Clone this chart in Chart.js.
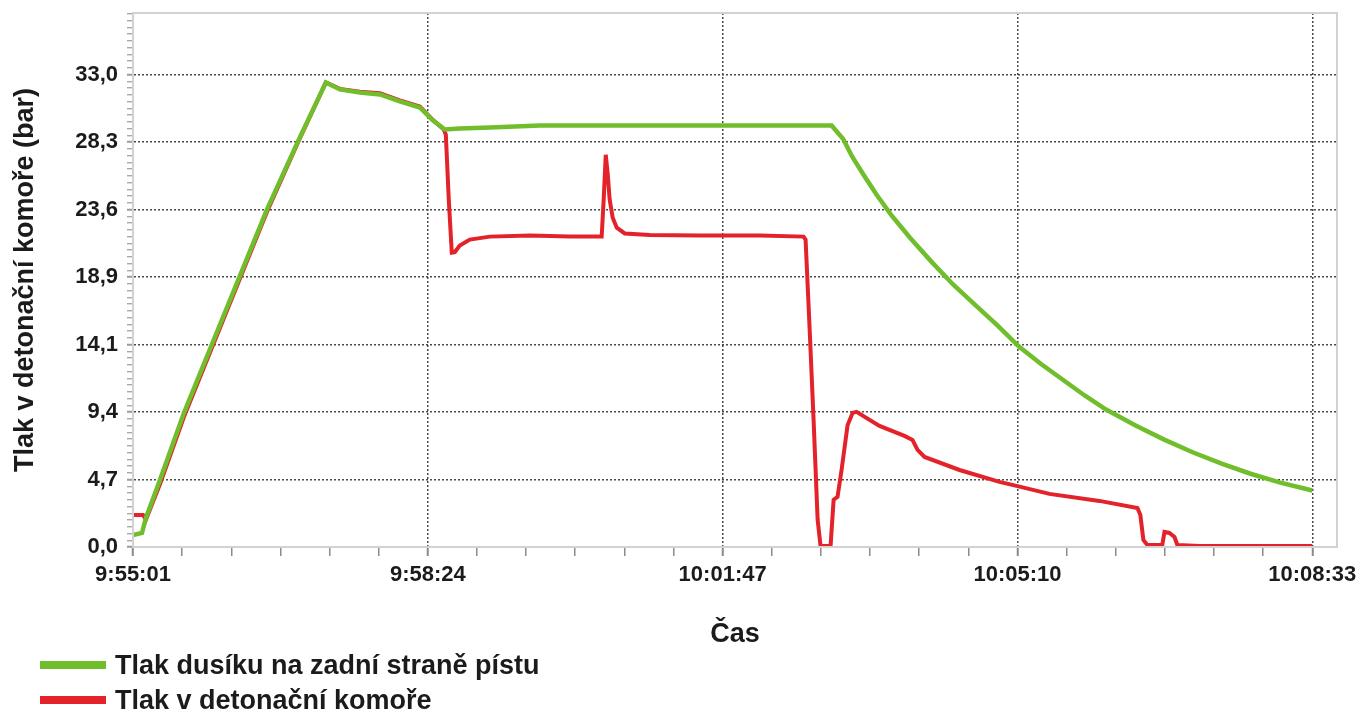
<!DOCTYPE html>
<html>
<head>
<meta charset="utf-8">
<title>Tlak v detonační komoře</title>
<script src="https://cdn.jsdelivr.net/npm/chart.js@4.4.1/dist/chart.umd.min.js"></script>
<style>
    body { margin: 0; background: #fff; }
    #wrap { position: relative; width: 1360px; height: 711px; }
    .leg { position: absolute; left: 40px; height: 30px; display: flex; align-items: center;
           font: bold 27px "Liberation Sans", Arial, sans-serif; color: #1b1b1b; }
    .leg span { display: inline-block; width: 66px; height: 8px; margin-right: 9px; }
</style>
</head>
<body>
<div id="wrap">
    <canvas id="pressureChart" width="1360" height="711"></canvas>
    <div class="leg" style="top:650px"><span style="background:#70be2c"></span>Tlak dusíku na zadní straně pístu</div>
    <div class="leg" style="top:685px"><span style="background:#e4222a"></span>Tlak v detonační komoře</div>
</div>
<script>
    // time in seconds from 9:55:01, pressure in bar
    var startTime = 9 * 3600 + 55 * 60 + 1;
    var majorStep = 203;          // 9:55:01, 9:58:24, 10:01:47 ...
    var yStep = 33 / 7;           // 0,0  4,7  9,4 ... 33,0

    // nitrogen behind piston
    var greenT = [0, 6.2, 8.9, 18.6, 35.1, 92.2, 113.5, 132.8, 142.4, 156.2, 170, 183.7, 197.5, 205.8, 214.7,
        225, 245.7, 280.1, 321.4, 390.2, 459, 481, 489, 495, 503, 512, 522, 535, 550, 565, 580, 595, 610,
        625, 640, 655, 670, 690, 710, 730, 750, 770, 790, 812];
    var greenP = [0.84, 0.98, 2.03, 4.69, 9.37, 23.57, 28.32, 32.45, 31.96, 31.75, 31.61, 31.12, 30.7, 29.86, 29.16,
        29.23, 29.3, 29.44, 29.44, 29.44, 29.44, 29.44, 28.5, 27.3, 26.0, 24.6, 23.2, 21.6, 19.9, 18.3, 16.9, 15.5, 14.0,
        12.8, 11.7, 10.6, 9.6, 8.5, 7.5, 6.6, 5.8, 5.1, 4.5, 3.95];

    // detonation chamber
    var redT = [0, 6.9, 8.9, 18.6, 35.1, 92.2, 113.5, 132.8, 142.4, 156.2, 170, 183.7, 197.5, 205.8, 214,
        215.4, 217.4, 219.5, 221.6, 225, 231.9, 245.7, 273.2, 300.7, 322.7, 324.1, 325.5, 326.9, 328.2, 330.3,
        333.1, 338.6, 355.8, 390.2, 431.5, 461.7, 463.1, 465.9, 468.6, 471.4, 473.4, 480.3, 482.4, 485.1, 487.9,
        492, 495.5, 498.2, 514, 531.2, 536.7, 540.2, 545, 569.1, 596.6, 608.3, 631, 665.4, 691.6, 693.6, 695.7,
        698.4, 708.7, 710.2, 713.6, 717.1, 719.1, 734.2, 812];
    var redP = [2.24, 2.24, 1.9, 4.4, 9.1, 23.4, 28.25, 32.45, 32.0, 31.8, 31.7, 31.2, 30.77, 29.9, 29.16,
        28.8, 24.3, 20.56, 20.6, 21.05, 21.47, 21.68, 21.75, 21.68, 21.68, 24.3, 27.4, 26.0, 24.27, 23.0,
        22.3, 21.9, 21.8, 21.75, 21.75, 21.68, 21.47, 15.2, 8.9, 1.9, 0.07, 0.07, 3.3, 3.5, 5.4,
        8.5, 9.37, 9.44, 8.46, 7.76, 7.48, 6.78, 6.29, 5.38, 4.55, 4.27, 3.71, 3.22, 2.73, 2.24, 0.49,
        0.14, 0.14, 1.05, 0.98, 0.7, 0.14, 0.07, 0.07];

    var font = "'Liberation Sans', Arial, sans-serif";

    function toPoints(t, p) {
        var pts = [];
        for (var i = 0; i < t.length; i++) {
            pts.push({ x: t[i], y: p[i] });
        }
        return pts;
    }

    function isMajor(v, step) {
        return Math.abs(v / step - Math.round(v / step)) < 1e-6;
    }

    function timeLabel(s) {
        s = Math.round(s) + startTime;
        var h = Math.floor(s / 3600);
        var m = Math.floor((s % 3600) / 60);
        var sec = s % 60;
        return h + ":" + (m < 10 ? "0" : "") + m + ":" + (sec < 10 ? "0" : "") + sec;
    }

    // light frame round the plot area
    var framePlugin = {
        id: "frame",
        afterDraw: function (chart) {
            var a = chart.chartArea;
            var ctx = chart.ctx;
            ctx.save();
            ctx.strokeStyle = "#d2d2d2";
            ctx.lineWidth = 2;
            ctx.strokeRect(a.left, a.top, a.right - a.left, a.bottom - a.top);
            ctx.restore();
        }
    };

    var gridColor = function (ctx) {
        var v = ctx.tick ? ctx.tick.value : 0;
        var step = ctx.scale.axis === "x" ? majorStep : yStep;
        if (v === 0 || !isMajor(v, step)) return "rgba(0,0,0,0)";
        return "#4a4a4a";
    };

    new Chart(document.getElementById("pressureChart"), {
        type: "line",
        data: {
            datasets: [{
                label: "Tlak dusíku na zadní straně pístu",
                data: toPoints(greenT, greenP),
                borderColor: "#70be2c",
                borderWidth: 4.5,
                pointRadius: 0,
                tension: 0
            }, {
                label: "Tlak v detonační komoře",
                data: toPoints(redT, redP),
                borderColor: "#e4222a",
                borderWidth: 4,
                pointRadius: 0,
                tension: 0
            }]
        },
        options: {
            responsive: false,
            animation: false,
            layout: { padding: { top: 13, right: 23, bottom: 60, left: 0 } },
            plugins: {
                legend: { display: false },
                tooltip: { enabled: false }
            },
            scales: {
                x: {
                    type: "linear",
                    min: 0,
                    max: 829,
                    afterBuildTicks: function (scale) {
                        var ticks = [];
                        for (var k = 0; k <= 24; k++) {
                            ticks.push({ value: k * majorStep / 6 });
                        }
                        scale.ticks = ticks;
                    },
                    afterFit: function (scale) {
                        scale.height = 104;
                        scale.paddingLeft = 0;
                        scale.paddingRight = 0;
                    },
                    ticks: {
                        autoSkip: false,
                        maxRotation: 0,
                        padding: 6,
                        color: "#1b1b1b",
                        font: { family: font, size: 22, weight: "bold" },
                        callback: function (v) { return isMajor(v, majorStep) ? timeLabel(v) : ""; }
                    },
                    grid: {
                        color: gridColor,
                        lineWidth: 1.5,
                        tickLength: 9,
                        tickColor: "#8a8a8a",
                        tickWidth: function (ctx) { return isMajor(ctx.tick.value, majorStep) ? 2 : 1.5; }
                    },
                    border: { color: "#cfcfcf", width: 2, dash: [2, 2] },
                    title: {
                        display: true,
                        text: "Čas",
                        color: "#1b1b1b",
                        font: { family: font, size: 27, weight: "bold" },
                        padding: { top: 0, bottom: 0 }
                    }
                },
                y: {
                    min: 0,
                    max: 37.3,
                    afterBuildTicks: function (scale) {
                        var ticks = [];
                        for (var k = 0; k <= 79; k++) {
                            ticks.push({ value: k * yStep / 10 });
                        }
                        scale.ticks = ticks;
                    },
                    afterFit: function (scale) {
                        scale.width = 133;
                        scale.paddingTop = 0;
                        scale.paddingBottom = 0;
                    },
                    ticks: {
                        autoSkip: false,
                        padding: 9,
                        color: "#1b1b1b",
                        font: { family: font, size: 22, weight: "bold" },
                        callback: function (v) {
                            return isMajor(v, yStep) ? v.toFixed(1).replace(".", ",") : "";
                        }
                    },
                    grid: {
                        color: gridColor,
                        lineWidth: 1.5,
                        tickLength: 6,
                        tickColor: "#9a9a9a",
                        tickWidth: function (ctx) { return isMajor(ctx.tick.value, yStep) ? 2 : 1.2; }
                    },
                    border: { color: "#cfcfcf", width: 2, dash: [2, 2] },
                    title: {
                        display: true,
                        text: "Tlak v detonační komoře (bar)",
                        color: "#1b1b1b",
                        font: { family: font, size: 27, weight: "bold" },
                        padding: { top: 9, bottom: 0 }
                    }
                }
            }
        },
        plugins: [framePlugin]
    });
</script>
</body>
</html>
